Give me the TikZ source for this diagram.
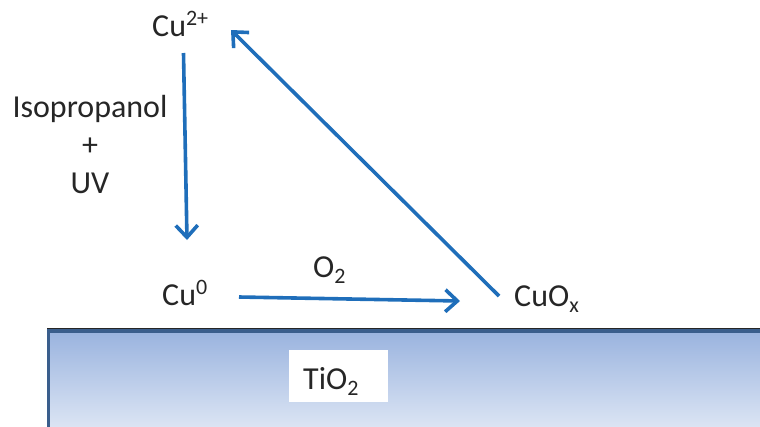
\documentclass[tikz,border=0pt]{standalone}
\usepackage{fontspec}
\setmainfont{Carlito}
\usetikzlibrary{arrows.meta,calc}
\definecolor{txt}{RGB}{38,38,38}
\definecolor{arrowblue}{RGB}{31,110,186}
\definecolor{slabtop}{RGB}{152,178,222}
\definecolor{slabbot}{RGB}{220,229,244}
\definecolor{slabedge}{RGB}{58,94,140}
\newcommand{\lowsub}[1]{\raisebox{-6.5pt}{\fontsize{22}{22}\selectfont #1}}
\newcommand{\highsup}[1]{\raisebox{11pt}{\fontsize{22}{22}\selectfont #1}}
\tikzset{
  label/.style={font=\fontsize{32}{38}\selectfont, text=txt, inner sep=0pt, anchor=base west},
  flow/.style={draw=arrowblue, line width=3.6pt, -{Straight Barb[length=12pt,width=22pt]}},
}
\begin{document}
\begin{tikzpicture}[x=1pt,y=-1pt]
\useasboundingbox (0,0) rectangle (760,426);
% slab
\shade[top color=slabtop, bottom color=slabbot] (47,329) rectangle (762,428);
\draw[slabedge, line width=3.5pt] (48.7,428) -- (48.7,331.2) -- (762,331.2);
\draw[black!85, line width=1.5pt] (47,328.6) -- (762,328.6);
\node[fill=white, minimum width=99pt, minimum height=52pt, inner sep=0pt] (tio2box) at (338.5,376) {};
\node[label] (tio2) at (303,389) {TiO\lowsub{2}};
% labels
\node[label] (cu2) at (152,36) {Cu\highsup{2+}};
\node[label] (cu0) at (162,305) {Cu\highsup{0}};
\node[label] (cuox) at (514,306) {CuO\lowsub{x}};
\node[label] (o2) at (313,277) {O\lowsub{2}};
\node[font=\fontsize{32}{38}\selectfont, text=txt, inner sep=0pt, align=center, anchor=base] (iso) at (90,193) {Isopropanol\\+\\UV};
% arrows
\draw[flow] ([shift={(31.5,17)}]cu2.base west) -- ([shift={(25,-65)}]cu0.base west);
\draw[flow] ([shift={(77,-8)}]cu0.base west) -- ([shift={(-54,-5)}]cuox.base west);
\draw[flow] ([shift={(-15,-10)}]cuox.base west) -- ([shift={(79,-6)}]cu2.base west);
\end{tikzpicture}
\end{document}
